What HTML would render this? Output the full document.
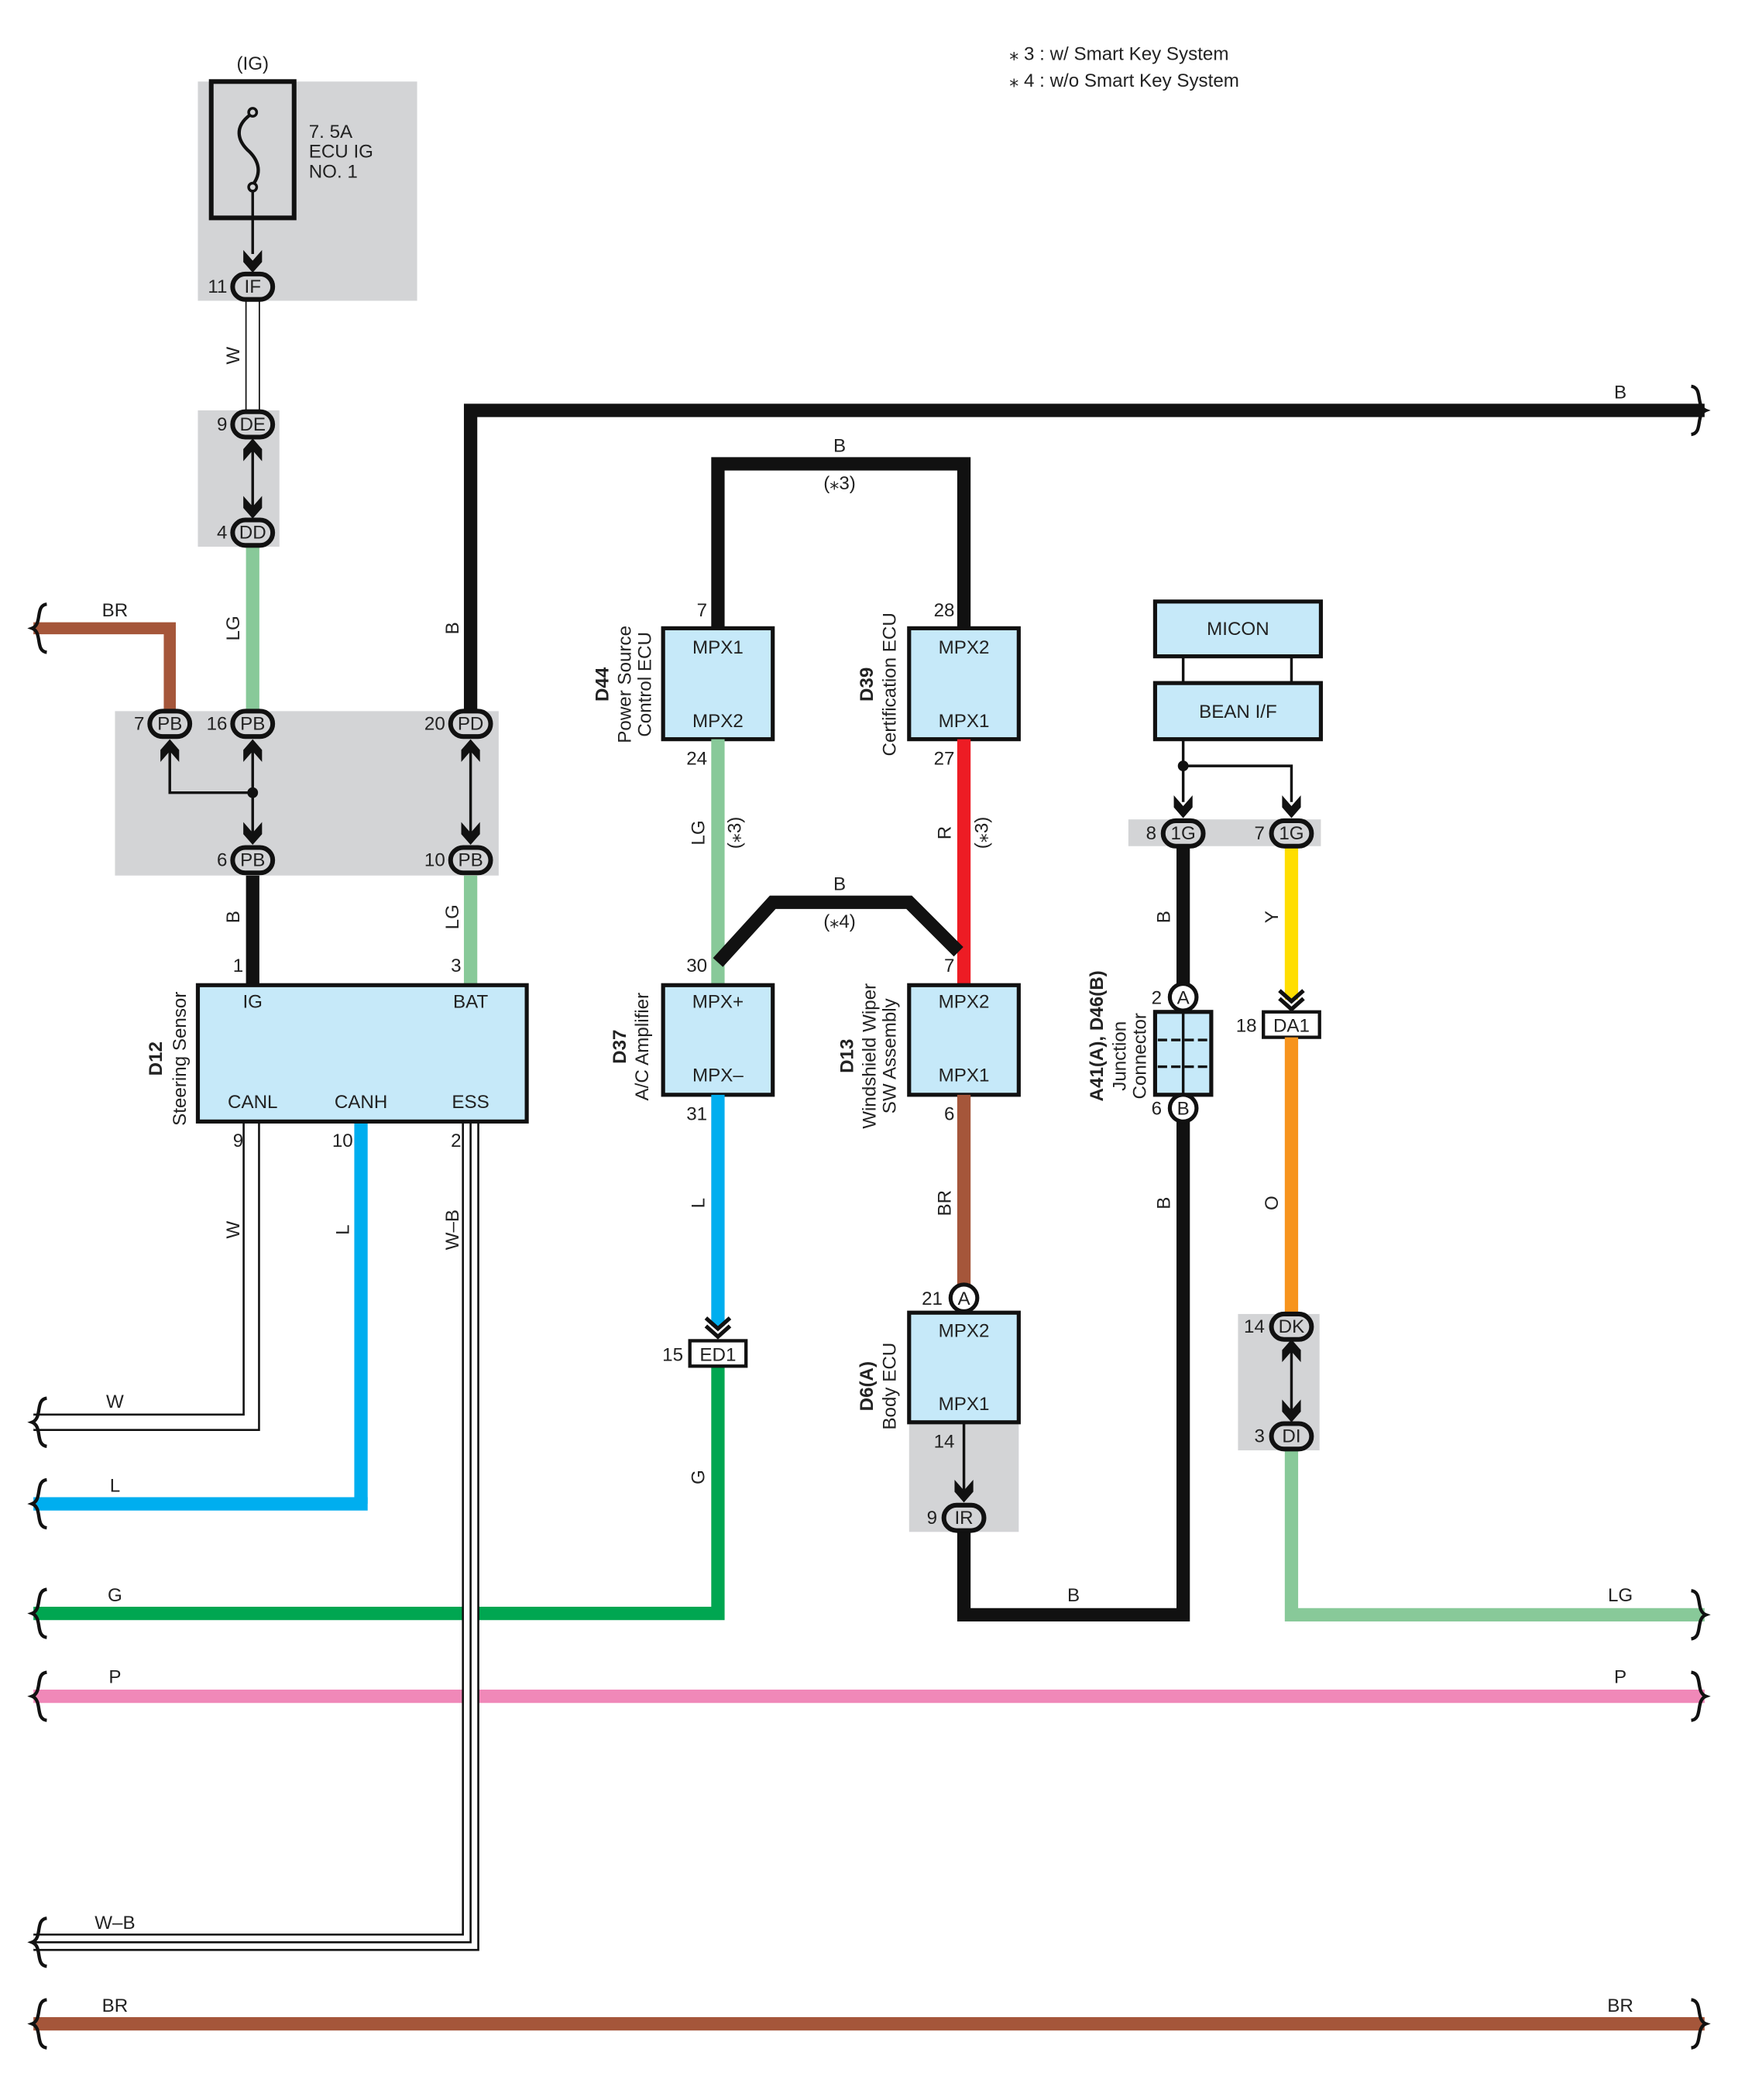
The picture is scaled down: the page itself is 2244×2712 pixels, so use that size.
<!DOCTYPE html>
<html><head><meta charset="utf-8"><style>
html,body{margin:0;padding:0;background:#fff;}
svg{display:block;}
text{font-family:"Liberation Sans",sans-serif;font-size:14px;fill:#222;}
</style></head><body>
<svg width="2244" height="2712" viewBox="0 0 1300 1571" preserveAspectRatio="none" xmlns="http://www.w3.org/2000/svg">
<defs>
<path id="ad" d="M0,0 L-7,-8 L-7,-17 L0,-9 L7,-17 L7,-8 Z" fill="#111"/>
<path id="au" d="M0,0 L-7,8 L-7,17 L0,9 L7,17 L7,8 Z" fill="#111"/>
<path id="bl" d="M10,-18 C1,-17 7,-3 -1,0 C7,3 1,17 10,18" stroke="#111" stroke-width="2.5" fill="none"/>
<path id="br" d="M-10,-18 C-1,-17 -7,-3 1,0 C-7,3 -1,17 -10,18" stroke="#111" stroke-width="2.5" fill="none"/>
<path id="chev" d="M-9,-12 L0,-4 L9,-12 M-9,-6 L0,2 L9,-6" stroke="#111" stroke-width="3" fill="none"/>
</defs>

<g fill="#d3d4d6">
<rect x="148" y="61" width="164" height="164"/>
<rect x="148" y="307" width="61" height="102"/>
<rect x="86" y="532" width="287" height="123"/>
<rect x="844" y="613" width="144" height="20"/>
<rect x="926" y="983" width="61" height="102"/>
<rect x="680" y="1064" width="82" height="82"/>
</g>

<text x="755" y="45">⁎ 3 : w/ Smart Key System</text>
<text x="755" y="65">⁎ 4 : w/o Smart Key System</text>

<text x="189" y="52" text-anchor="middle">(IG)</text>
<rect x="158" y="61" width="62" height="102" fill="none" stroke="#111" stroke-width="3.5"/>
<circle cx="189" cy="84" r="3" fill="none" stroke="#111" stroke-width="2"/>
<circle cx="189" cy="140" r="3" fill="none" stroke="#111" stroke-width="2"/>
<path d="M187,86 C175,95 178,105 185,112 C193,119 196,128 190,137" stroke="#111" stroke-width="2.5" fill="none"/>
<line x1="189" y1="143" x2="189" y2="190" stroke="#111" stroke-width="2"/>
<use href="#ad" x="189" y="204"/>
<text x="231" y="103">7. 5A</text>
<text x="231" y="118">ECU IG</text>
<text x="231" y="133">NO. 1</text>

<line x1="189" y1="214" x2="189" y2="317" stroke="#111" stroke-width="11"/>
<line x1="189" y1="214" x2="189" y2="317" stroke="#fff" stroke-width="9"/>
<text transform="translate(179,266) rotate(-90)" text-anchor="middle">W</text>

<line x1="189" y1="330" x2="189" y2="385" stroke="#111" stroke-width="2"/>
<use href="#au" x="189" y="328"/><use href="#ad" x="189" y="388"/>
<line x1="189" y1="408" x2="189" y2="532" stroke="#88c999" stroke-width="10"/>
<text transform="translate(179,470) rotate(-90)" text-anchor="middle">LG</text>

<polyline points="25,470 127,470 127,532" fill="none" stroke="#a5563a" stroke-width="9"/>
<text x="86" y="461" text-anchor="middle">BR</text>

<polyline points="352,532 352,307 1275,307" fill="none" stroke="#111" stroke-width="10"/>
<text x="1212" y="298" text-anchor="middle">B</text>
<text transform="translate(343,470) rotate(-90)" text-anchor="middle">B</text>

<g stroke="#111" stroke-width="2" fill="none">
<polyline points="127,555 127,593 189,593"/>
<line x1="189" y1="555" x2="189" y2="628"/>
<line x1="352" y1="555" x2="352" y2="628"/>
</g>
<circle cx="189" cy="593" r="4" fill="#111"/>
<use href="#au" x="127" y="553"/><use href="#au" x="189" y="553"/><use href="#ad" x="189" y="632"/>
<use href="#au" x="352" y="553"/><use href="#ad" x="352" y="632"/>

<line x1="189" y1="655" x2="189" y2="737" stroke="#111" stroke-width="10"/>
<line x1="352" y1="655" x2="352" y2="737" stroke="#88c999" stroke-width="10"/>
<text transform="translate(179,686) rotate(-90)" text-anchor="middle">B</text>
<text transform="translate(343,686) rotate(-90)" text-anchor="middle">LG</text>

<line x1="270" y1="839" x2="270" y2="1125" stroke="#00aeef" stroke-width="10"/>
<line x1="25" y1="1125" x2="275" y2="1125" stroke="#00aeef" stroke-width="10"/>
<polyline points="188,839 188,1064 25,1064" fill="none" stroke="#111" stroke-width="13"/>
<polyline points="188,839 188,1064 25,1064" fill="none" stroke="#fff" stroke-width="10"/>
<polyline points="25,1207 537,1207 537,1022" fill="none" stroke="#00a651" stroke-width="10"/>
<line x1="25" y1="1269" x2="1275" y2="1269" stroke="#f088b8" stroke-width="10"/>
<line x1="25" y1="1514" x2="1275" y2="1514" stroke="#a5563a" stroke-width="10"/>
<polyline points="352,839 352,1453 25,1453" fill="none" stroke="#111" stroke-width="13"/>
<polyline points="352,839 352,1453 25,1453" fill="none" stroke="#fff" stroke-width="10"/>
<polyline points="352,839 352,1453 25,1453" fill="none" stroke="#111" stroke-width="1.5"/>
<text transform="translate(179,920) rotate(-90)" text-anchor="middle">W</text>
<text transform="translate(261,920) rotate(-90)" text-anchor="middle">L</text>
<text transform="translate(343,920) rotate(-90)" text-anchor="middle">W–B</text>
<text x="86" y="1053" text-anchor="middle">W</text>
<text x="86" y="1116" text-anchor="middle">L</text>
<text x="86" y="1198" text-anchor="middle">G</text>
<text x="86" y="1259" text-anchor="middle">P</text>
<text x="1212" y="1259" text-anchor="middle">P</text>
<text x="86" y="1443" text-anchor="middle">W–B</text>
<text x="86" y="1505" text-anchor="middle">BR</text>
<text x="1212" y="1505" text-anchor="middle">BR</text>

<rect x="148" y="737" width="246" height="102" fill="#c6e9f9" stroke="#111" stroke-width="3"/>
<text x="189" y="754" text-anchor="middle">IG</text>
<text x="352" y="754" text-anchor="middle">BAT</text>
<text x="189" y="829" text-anchor="middle">CANL</text>
<text x="270" y="829" text-anchor="middle">CANH</text>
<text x="352" y="829" text-anchor="middle">ESS</text>
<text x="182" y="727" text-anchor="end">1</text>
<text x="345" y="727" text-anchor="end">3</text>
<text x="182" y="858" text-anchor="end">9</text>
<text x="264" y="858" text-anchor="end">10</text>
<text x="345" y="858" text-anchor="end">2</text>
<text transform="translate(121,792) rotate(-90)" text-anchor="middle" font-weight="bold">D12</text>
<text transform="translate(139,792) rotate(-90)" text-anchor="middle">Steering Sensor</text>

<polyline points="537,470 537,347 721,347 721,470" fill="none" stroke="#111" stroke-width="10"/>
<text x="628" y="338" text-anchor="middle">B</text>
<text x="628" y="366" text-anchor="middle">(⁎3)</text>

<rect x="496" y="470" width="82" height="83" fill="#c6e9f9" stroke="#111" stroke-width="3"/>
<text x="537" y="489" text-anchor="middle">MPX1</text>
<text x="537" y="544" text-anchor="middle">MPX2</text>
<text x="529" y="461" text-anchor="end">7</text>
<text x="529" y="572" text-anchor="end">24</text>
<text transform="translate(455,512) rotate(-90)" text-anchor="middle" font-weight="bold">D44</text>
<text transform="translate(472,512) rotate(-90)" text-anchor="middle">Power Source</text>
<text transform="translate(487,512) rotate(-90)" text-anchor="middle">Control ECU</text>

<rect x="680" y="470" width="82" height="83" fill="#c6e9f9" stroke="#111" stroke-width="3"/>
<text x="721" y="489" text-anchor="middle">MPX2</text>
<text x="721" y="544" text-anchor="middle">MPX1</text>
<text x="714" y="461" text-anchor="end">28</text>
<text x="714" y="572" text-anchor="end">27</text>
<text transform="translate(653,512) rotate(-90)" text-anchor="middle" font-weight="bold">D39</text>
<text transform="translate(670,512) rotate(-90)" text-anchor="middle">Certification ECU</text>

<line x1="537" y1="553" x2="537" y2="737" stroke="#88c999" stroke-width="10"/>
<line x1="721" y1="553" x2="721" y2="737" stroke="#ed1c24" stroke-width="10"/>
<text transform="translate(527,623) rotate(-90)" text-anchor="middle">LG</text>
<text transform="translate(554,623) rotate(-90)" text-anchor="middle">(⁎3)</text>
<text transform="translate(711,623) rotate(-90)" text-anchor="middle">R</text>
<text transform="translate(739,623) rotate(-90)" text-anchor="middle">(⁎3)</text>

<polyline points="537,720 578,675 680,675 717,712" fill="none" stroke="#111" stroke-width="10"/>
<text x="628" y="666" text-anchor="middle">B</text>
<text x="628" y="694" text-anchor="middle">(⁎4)</text>

<rect x="496" y="737" width="82" height="82" fill="#c6e9f9" stroke="#111" stroke-width="3"/>
<text x="537" y="754" text-anchor="middle">MPX+</text>
<text x="537" y="809" text-anchor="middle">MPX–</text>
<text x="529" y="727" text-anchor="end">30</text>
<text x="529" y="838" text-anchor="end">31</text>
<text transform="translate(468,783) rotate(-90)" text-anchor="middle" font-weight="bold">D37</text>
<text transform="translate(485,783) rotate(-90)" text-anchor="middle">A/C Amplifier</text>

<line x1="537" y1="819" x2="537" y2="992" stroke="#00aeef" stroke-width="10"/>
<use href="#chev" x="537" y="998"/>
<text transform="translate(527,900) rotate(-90)" text-anchor="middle">L</text>
<rect x="516" y="1003" width="42" height="19" fill="#fff" stroke="#111" stroke-width="2.5"/>
<text x="537" y="1018" text-anchor="middle">ED1</text>
<text x="511" y="1018" text-anchor="end">15</text>
<text transform="translate(527,1105) rotate(-90)" text-anchor="middle">G</text>

<rect x="680" y="737" width="82" height="82" fill="#c6e9f9" stroke="#111" stroke-width="3"/>
<text x="721" y="754" text-anchor="middle">MPX2</text>
<text x="721" y="809" text-anchor="middle">MPX1</text>
<text x="714" y="727" text-anchor="end">7</text>
<text x="714" y="838" text-anchor="end">6</text>
<text transform="translate(638,790) rotate(-90)" text-anchor="middle" font-weight="bold">D13</text>
<text transform="translate(655,790) rotate(-90)" text-anchor="middle">Windshield Wiper</text>
<text transform="translate(670,790) rotate(-90)" text-anchor="middle">SW Assembly</text>

<line x1="721" y1="819" x2="721" y2="962" stroke="#a5563a" stroke-width="10"/>
<text transform="translate(711,900) rotate(-90)" text-anchor="middle">BR</text>
<circle cx="721" cy="971" r="10" fill="#fff" stroke="#111" stroke-width="3"/>
<text x="721" y="976" text-anchor="middle">A</text>
<text x="705" y="976" text-anchor="end">21</text>

<rect x="680" y="982" width="82" height="82" fill="#c6e9f9" stroke="#111" stroke-width="3"/>
<text x="721" y="1000" text-anchor="middle">MPX2</text>
<text x="721" y="1055" text-anchor="middle">MPX1</text>
<text x="714" y="1083" text-anchor="end">14</text>
<text transform="translate(653,1037) rotate(-90)" text-anchor="middle" font-weight="bold">D6(A)</text>
<text transform="translate(670,1037) rotate(-90)" text-anchor="middle">Body ECU</text>
<line x1="721" y1="1064" x2="721" y2="1115" stroke="#111" stroke-width="2"/>
<use href="#ad" x="721" y="1124"/>

<polyline points="721,1135 721,1208 885,1208 885,830" fill="none" stroke="#111" stroke-width="10"/>
<text x="803" y="1198" text-anchor="middle">B</text>

<line x1="885" y1="491" x2="885" y2="511" stroke="#111" stroke-width="2"/>
<line x1="966" y1="491" x2="966" y2="511" stroke="#111" stroke-width="2"/>
<rect x="864" y="450" width="124" height="41" fill="#c6e9f9" stroke="#111" stroke-width="3"/>
<text x="926" y="475" text-anchor="middle">MICON</text>
<rect x="864" y="511" width="124" height="42" fill="#c6e9f9" stroke="#111" stroke-width="3"/>
<text x="926" y="537" text-anchor="middle">BEAN I/F</text>
<polyline points="885,553 885,600" fill="none" stroke="#111" stroke-width="2"/>
<polyline points="885,573 966,573 966,600" fill="none" stroke="#111" stroke-width="2"/>
<circle cx="885" cy="573" r="4" fill="#111"/>
<use href="#ad" x="885" y="612"/><use href="#ad" x="966" y="612"/>

<line x1="885" y1="633" x2="885" y2="740" stroke="#111" stroke-width="10"/>
<text transform="translate(875,686) rotate(-90)" text-anchor="middle">B</text>
<text transform="translate(875,900) rotate(-90)" text-anchor="middle">B</text>
<circle cx="885" cy="746" r="10" fill="#fff" stroke="#111" stroke-width="3"/>
<text x="885" y="751" text-anchor="middle">A</text>
<text x="869" y="751" text-anchor="end">2</text>
<rect x="864" y="757" width="42" height="62" fill="#c6e9f9" stroke="#111" stroke-width="3"/>
<line x1="885" y1="757" x2="885" y2="819" stroke="#111" stroke-width="2"/>
<line x1="866" y1="778" x2="904" y2="778" stroke="#111" stroke-width="2" stroke-dasharray="7,3"/>
<line x1="866" y1="798" x2="904" y2="798" stroke="#111" stroke-width="2" stroke-dasharray="7,3"/>
<circle cx="885" cy="829" r="10" fill="#fff" stroke="#111" stroke-width="3"/>
<text x="885" y="834" text-anchor="middle">B</text>
<text x="869" y="834" text-anchor="end">6</text>
<text transform="translate(825,775) rotate(-90)" text-anchor="middle" font-weight="bold">A41(A), D46(B)</text>
<text transform="translate(842,790) rotate(-90)" text-anchor="middle">Junction</text>
<text transform="translate(857,790) rotate(-90)" text-anchor="middle">Connector</text>

<line x1="966" y1="633" x2="966" y2="748" stroke="#ffde00" stroke-width="10"/>
<text transform="translate(956,686) rotate(-90)" text-anchor="middle">Y</text>
<use href="#chev" x="966" y="753"/>
<rect x="945" y="757" width="42" height="19" fill="#fff" stroke="#111" stroke-width="2.5"/>
<text x="966" y="772" text-anchor="middle">DA1</text>
<text x="940" y="772" text-anchor="end">18</text>
<line x1="966" y1="776" x2="966" y2="985" stroke="#f7941d" stroke-width="10"/>
<text transform="translate(956,900) rotate(-90)" text-anchor="middle">O</text>
<line x1="966" y1="1004" x2="966" y2="1062" stroke="#111" stroke-width="2"/>
<use href="#au" x="966" y="1002"/><use href="#ad" x="966" y="1064"/>
<polyline points="966,1084 966,1208 1275,1208" fill="none" stroke="#88c999" stroke-width="10"/>
<text x="1212" y="1198" text-anchor="middle">LG</text>

<g stroke="#111" stroke-width="3.5" fill="#d3d4d6">
<rect x="174" y="205" width="30" height="19" rx="9.5"/>
<rect x="174" y="308" width="30" height="19" rx="9.5"/>
<rect x="174" y="389" width="30" height="19" rx="9.5"/>
<rect x="112" y="532" width="30" height="19" rx="9.5"/>
<rect x="174" y="532" width="30" height="19" rx="9.5"/>
<rect x="337" y="532" width="30" height="19" rx="9.5"/>
<rect x="174" y="634" width="30" height="19" rx="9.5"/>
<rect x="337" y="634" width="30" height="19" rx="9.5"/>
<rect x="870" y="614" width="30" height="19" rx="9.5"/>
<rect x="951" y="614" width="30" height="19" rx="9.5"/>
<rect x="951" y="983" width="30" height="19" rx="9.5"/>
<rect x="951" y="1065" width="30" height="19" rx="9.5"/>
<rect x="706" y="1126" width="30" height="19" rx="9.5"/>
</g>
<g text-anchor="middle">
<text x="189" y="219">IF</text>
<text x="189" y="322">DE</text>
<text x="189" y="403">DD</text>
<text x="127" y="546">PB</text>
<text x="189" y="546">PB</text>
<text x="352" y="546">PD</text>
<text x="189" y="648">PB</text>
<text x="352" y="648">PB</text>
<text x="885" y="628">1G</text>
<text x="966" y="628">1G</text>
<text x="966" y="997">DK</text>
<text x="966" y="1079">DI</text>
<text x="721" y="1140">IR</text>
</g>
<g text-anchor="end">
<text x="170" y="219">11</text>
<text x="170" y="322">9</text>
<text x="170" y="403">4</text>
<text x="108" y="546">7</text>
<text x="170" y="546">16</text>
<text x="333" y="546">20</text>
<text x="170" y="648">6</text>
<text x="333" y="648">10</text>
<text x="865" y="628">8</text>
<text x="946" y="628">7</text>
<text x="946" y="997">14</text>
<text x="946" y="1079">3</text>
<text x="701" y="1140">9</text>
</g>

<use href="#bl" x="25" y="470"/>
<use href="#bl" x="25" y="1064"/>
<use href="#bl" x="25" y="1125"/>
<use href="#bl" x="25" y="1207"/>
<use href="#bl" x="25" y="1269"/>
<use href="#bl" x="25" y="1453"/>
<use href="#bl" x="25" y="1514"/>
<use href="#br" x="1275" y="307"/>
<use href="#br" x="1275" y="1208"/>
<use href="#br" x="1275" y="1269"/>
<use href="#br" x="1275" y="1514"/>
</svg>
</body></html>
